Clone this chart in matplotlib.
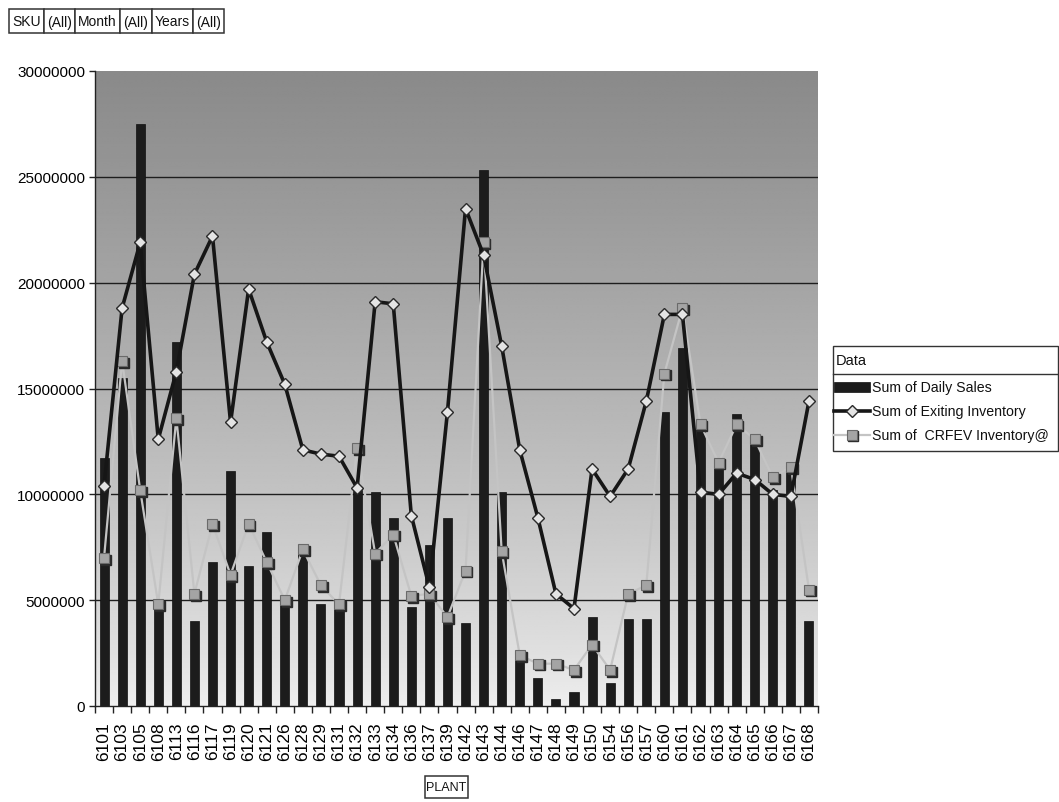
import numpy as np
import matplotlib
matplotlib.use("Agg")
import matplotlib.pyplot as plt
from matplotlib.lines import Line2D
from matplotlib.patches import Rectangle
from matplotlib.transforms import offset_copy
from matplotlib.ticker import FuncFormatter, MultipleLocator, FixedLocator

plt.rcParams['font.family'] = ['Liberation Sans', 'DejaVu Sans']

plants = ["6101", "6103", "6105", "6108", "6113", "6116", "6117", "6119", "6120", "6121",
          "6126", "6128", "6129", "6131", "6132", "6133", "6134", "6136", "6137", "6139",
          "6142", "6143", "6144", "6146", "6147", "6148", "6149", "6150", "6154", "6156",
          "6157", "6160", "6161", "6162", "6163", "6164", "6165", "6166", "6167", "6168"]

daily_sales = [11.7, 15.5, 27.5, 4.6, 17.2, 4.0, 6.8, 11.1, 6.6, 8.2,
               5.1, 7.3, 4.8, 4.6, 10.2, 10.1, 8.9, 4.7, 7.6, 8.9,
               3.9, 25.3, 10.1, 2.3, 1.3, 0.35, 0.65, 4.2, 1.1, 4.1,
               4.1, 13.9, 16.9, 13.3, 11.4, 13.8, 12.4, 10.2, 11.1, 4.0]

exiting_inventory = [10.4, 18.8, 21.9, 12.6, 15.8, 20.4, 22.2, 13.4, 19.7, 17.2,
                     15.2, 12.1, 11.9, 11.8, 10.3, 19.1, 19.0, 9.0, 5.6, 13.9,
                     23.5, 21.3, 17.0, 12.1, 8.9, 5.3, 4.6, 11.2, 9.9, 11.2,
                     14.4, 18.5, 18.5, 10.1, 10.0, 11.0, 10.7, 10.0, 9.9, 14.4]

crfev_inventory = [7.0, 16.3, 10.2, 4.8, 13.6, 5.3, 8.6, 6.2, 8.6, 6.8,
                   5.0, 7.4, 5.7, 4.8, 12.2, 7.2, 8.1, 5.2, 5.3, 4.2,
                   6.4, 21.9, 7.3, 2.4, 2.0, 2.0, 1.7, 2.9, 1.7, 5.3,
                   5.7, 15.7, 18.8, 13.3, 11.5, 13.3, 12.6, 10.8, 11.3, 5.5]

scale = 1_000_000
sales = np.array(daily_sales) * scale
exiting = np.array(exiting_inventory) * scale
crfev = np.array(crfev_inventory) * scale
x = np.arange(len(plants))

W, H = 1059, 803
fig = plt.figure(figsize=(W / 100, H / 100), dpi=100)
fig.patch.set_facecolor("white")

ax_l, ax_r, ax_t, ax_b = 95, 818, 72, 707
ax = fig.add_axes([ax_l / W, 1 - ax_b / H, (ax_r - ax_l) / W, (ax_b - ax_t) / H])

ymax = 30_000_000
ax.set_xlim(-0.5, len(plants) - 0.5)
ax.set_ylim(0, ymax)

# plot-area gradient: dark grey at the top fading to near white at the bottom
levels = np.linspace(0, 1, 256)
shade = 0.94 - 0.40 * levels ** 0.75
grad = np.repeat(shade[:, None], 2, axis=1)
ax.imshow(grad, cmap="gray", vmin=0, vmax=1, origin="lower",
          extent=(-0.5, len(plants) - 0.5, 0, ymax), aspect="auto", zorder=0,
          interpolation="bilinear")

# horizontal gridlines
for v in range(5_000_000, ymax, 5_000_000):
    ax.axhline(v, color="#1e1e1e", lw=1.0, zorder=1)

ax.bar(x, sales, width=0.5, color="#1c1c1c", edgecolor="#111111", lw=0.5, zorder=2)

# CRFEV series: thin light line, square markers with a dark drop shadow
shadow = offset_copy(ax.transData, fig=fig, x=1.3, y=-1.3, units="points")
ax.plot(x, crfev, color="#c4c4c4", lw=1.6, zorder=3)
ax.plot(x, crfev, linestyle="none", transform=shadow, zorder=3,
        marker="s", markersize=7.5, markerfacecolor="#2a2a2a", markeredgecolor="#2a2a2a")
ax.plot(x, crfev, linestyle="none", zorder=3,
        marker="s", markersize=7.5, markerfacecolor="#a4a4a4",
        markeredgecolor="#6a6a6a", markeredgewidth=0.8)

# exiting inventory: heavy dark line with light diamonds
ax.plot(x, exiting, color="#161616", lw=2.6, zorder=4,
        marker="D", markersize=6, markerfacecolor="#e4e4e4",
        markeredgecolor="#2a2a2a", markeredgewidth=1.0)

# axes styling
for side in ("top", "right"):
    ax.spines[side].set_visible(False)
ax.spines["left"].set_color("#222222")
ax.spines["bottom"].set_color("#222222")
ax.spines["left"].set_linewidth(1.0)
ax.spines["bottom"].set_linewidth(1.0)

ax.yaxis.set_major_locator(MultipleLocator(5_000_000))
ax.yaxis.set_major_formatter(FuncFormatter(lambda v, p: f"{int(v)}"))
ax.tick_params(axis="y", length=4, width=1, color="#222222", labelsize=11, pad=3)

ax.set_xticks(x)
ax.set_xticklabels(plants, rotation=90, fontsize=12.5)
ax.tick_params(axis="x", which="major", length=0, pad=11)
ax.xaxis.set_minor_locator(FixedLocator(np.arange(-0.5, len(plants), 1.0)))
ax.tick_params(axis="x", which="minor", length=5, width=1, color="#222222")

# page-field buttons along the top
def button(x0, y0, w, h, label, size=10):
    fig.patches.append(Rectangle((x0 / W, 1 - (y0 + h) / H), w / W, h / H,
                                 transform=fig.transFigure, facecolor="white",
                                 edgecolor="#333333", lw=1.1))
    fig.text((x0 + w / 2) / W, 1 - (y0 + h / 2 + 0.5) / H, label, ha="center",
             va="center", fontsize=size, color="#111111")

fields = [("SKU", 9, 35), ("(All)", 44, 31), ("Month", 75, 45), ("(All)", 120, 32),
          ("Years", 152, 41), ("(All)", 193, 31)]
for label, bx, bw in fields:
    button(bx, 10, bw, 24, label)

button(425, 777, 43, 22, "PLANT", size=9)

# legend box
lx0, ly0, lx1, ly1 = 833, 347, 1058, 452
fig.patches.append(Rectangle((lx0 / W, 1 - ly1 / H), (lx1 - lx0) / W, (ly1 - ly0) / H,
                             transform=fig.transFigure, facecolor="white",
                             edgecolor="#333333", lw=1.0))
fig.add_artist(Line2D([lx0 / W, lx1 / W], [1 - 375 / H, 1 - 375 / H],
                      transform=fig.transFigure, color="#333333", lw=1.0))
fig.text(836 / W, 1 - 361 / H, "Data", ha="left", va="center", fontsize=10.5,
         color="#111111")

entries = [
    ("Sum of Daily Sales", 388),
    ("Sum of Exiting Inventory", 412),
    ("Sum of  CRFEV Inventory@", 436),
]
# legend keys
fig.patches.append(Rectangle((834 / W, 1 - 393 / H), 36 / W, 10 / H,
                             transform=fig.transFigure, facecolor="#1c1c1c",
                             edgecolor="#111111", lw=0.5))
fig.add_artist(Line2D([834 / W, 870 / W], [1 - 412 / H, 1 - 412 / H],
                      transform=fig.transFigure, color="#161616", lw=2.6))
fig.add_artist(Line2D([852 / W], [1 - 412 / H], transform=fig.transFigure,
                      marker="D", markersize=6, markerfacecolor="#e4e4e4",
                      markeredgecolor="#2a2a2a", markeredgewidth=1.0, linestyle="none"))
fig.add_artist(Line2D([834 / W, 870 / W], [1 - 436 / H, 1 - 436 / H],
                      transform=fig.transFigure, color="#c4c4c4", lw=1.6))
fig.add_artist(Line2D([853 / W], [1 - 437 / H], transform=fig.transFigure,
                      marker="s", markersize=7.5, markerfacecolor="#2a2a2a",
                      markeredgecolor="#2a2a2a", linestyle="none"))
fig.add_artist(Line2D([852 / W], [1 - 436 / H], transform=fig.transFigure,
                      marker="s", markersize=7.5, markerfacecolor="#a4a4a4",
                      markeredgecolor="#6a6a6a", markeredgewidth=0.8, linestyle="none"))
for label, yy in entries:
    fig.text(872 / W, 1 - yy / H, label, ha="left", va="center", fontsize=10.2,
             color="#111111")

fig.savefig("out.png", dpi=100, facecolor="white")
